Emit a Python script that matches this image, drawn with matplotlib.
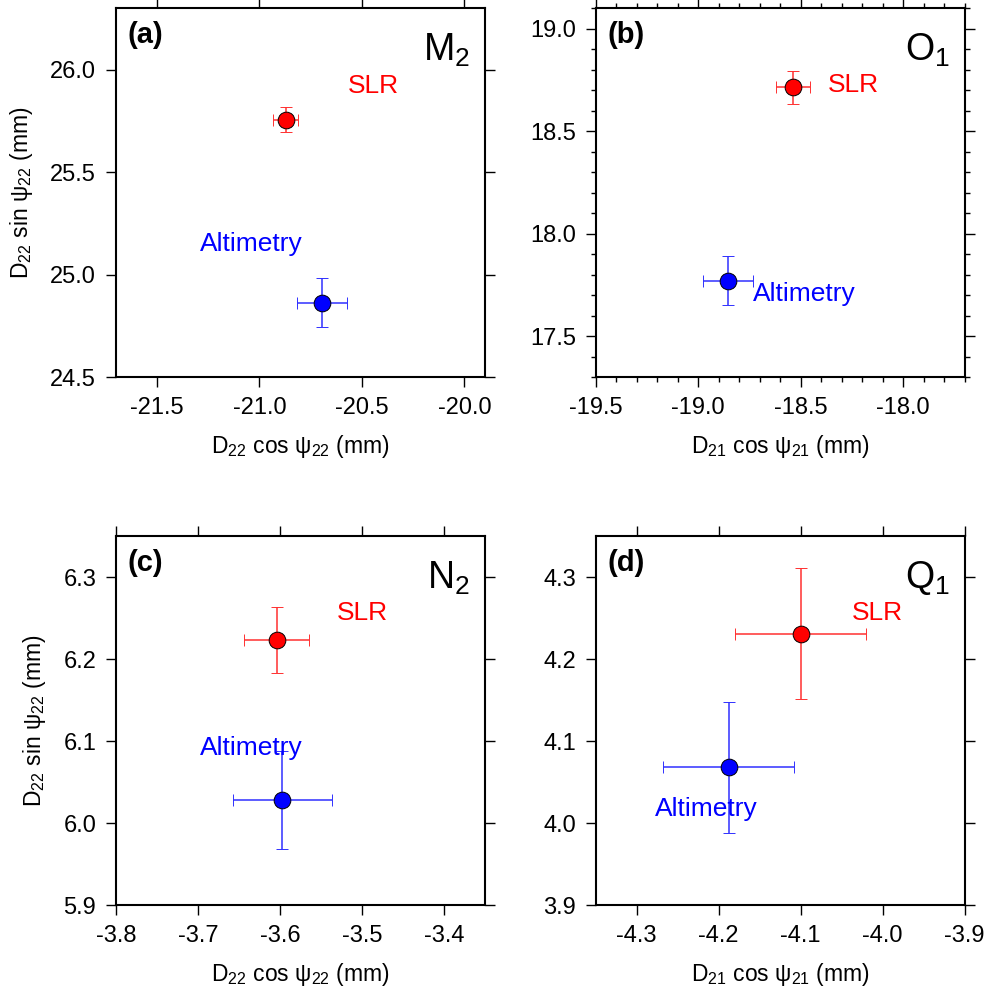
import matplotlib
matplotlib.use('Agg')
import matplotlib.pyplot as plt
from matplotlib.ticker import MultipleLocator, FormatStrFormatter

plt.rcParams['font.family'] = ['Liberation Sans', 'DejaVu Sans']
plt.rcParams['mathtext.fontset'] = 'custom'
plt.rcParams['mathtext.rm'] = 'Liberation Sans'
plt.rcParams['mathtext.it'] = 'Liberation Sans'
plt.rcParams['mathtext.default'] = 'regular'
plt.rcParams['axes.unicode_minus'] = False

# panel data (mm)
panel_tags = ['(a)', '(b)', '(c)', '(d)']
tide_names = ['M$_2$', 'O$_1$', 'N$_2$', 'Q$_1$']
x_titles = ['D$_{22}$ cos ψ$_{22}$ (mm)', 'D$_{21}$ cos ψ$_{21}$ (mm)',
            'D$_{22}$ cos ψ$_{22}$ (mm)', 'D$_{21}$ cos ψ$_{21}$ (mm)']
y_titles = ['D$_{22}$ sin ψ$_{22}$ (mm)', None, 'D$_{22}$ sin ψ$_{22}$ (mm)', None]

slr_x = [-20.872, -18.538, -3.604, -4.100]
slr_y = [25.755, 18.713, 6.223, 4.231]
slr_xerr = [0.062, 0.082, 0.040, 0.080]
slr_yerr = [0.060, 0.080, 0.040, 0.080]

alt_x = [-20.696, -18.855, -3.597, -4.188]
alt_y = [24.862, 17.769, 6.028, 4.068]
alt_xerr = [0.122, 0.121, 0.060, 0.080]
alt_yerr = [0.120, 0.119, 0.060, 0.080]

x_limits = [(-21.7, -19.9), (-19.5, -17.7), (-3.8, -3.35), (-4.35, -3.9)]
y_limits = [(24.5, 26.3), (17.3, 19.1), (5.9, 6.35), (3.9, 4.35)]
major_step = [0.5, 0.5, 0.1, 0.1]
has_minor = [False, True, False, False]

# where the SLR / Altimetry words sit (data coords, centre x, baseline y)
slr_text = [(-20.446, 25.886), (-18.245, 18.689), (-3.50, 6.248), (-4.006, 4.248)]
alt_text = [(-21.04, 25.114), (-18.482, 17.671), (-3.635, 6.083), (-4.215, 4.008)]

fig = plt.figure(figsize=(9.86, 9.94), dpi=100)
lefts = [0.1176, 0.6042, 0.1176, 0.6042]
bottoms = [0.6207, 0.6207, 0.0895, 0.0895]

for i in range(4):
    ax = fig.add_axes([lefts[i], bottoms[i], 0.3742, 0.3712])

    ax.errorbar(alt_x[i], alt_y[i], xerr=alt_xerr[i], yerr=alt_yerr[i],
                fmt='o', color='blue', ecolor='#3030ff', elinewidth=1.1,
                capsize=4, capthick=1.1, markersize=12,
                markerfacecolor='blue', markeredgecolor='black',
                markeredgewidth=0.7, zorder=3)
    ax.errorbar(slr_x[i], slr_y[i], xerr=slr_xerr[i], yerr=slr_yerr[i],
                fmt='o', color='red', ecolor='#ff3030', elinewidth=1.1,
                capsize=4, capthick=1.1, markersize=12,
                markerfacecolor='red', markeredgecolor='black',
                markeredgewidth=0.7, zorder=3)

    ax.text(slr_text[i][0], slr_text[i][1], 'SLR', color='red',
            fontsize=19, ha='center', va='baseline')
    ax.text(alt_text[i][0], alt_text[i][1], 'Altimetry', color='blue',
            fontsize=19, ha='center', va='baseline')

    ax.text(0.032, 0.904, panel_tags[i], transform=ax.transAxes,
            fontsize=21, fontweight='bold', ha='left', va='baseline')
    ax.text(0.96, 0.858, tide_names[i], transform=ax.transAxes,
            fontsize=27, ha='right', va='baseline')

    ax.set_xlim(*x_limits[i])
    ax.set_ylim(*y_limits[i])
    ax.xaxis.set_major_locator(MultipleLocator(major_step[i]))
    ax.yaxis.set_major_locator(MultipleLocator(major_step[i]))
    ax.xaxis.set_major_formatter(FormatStrFormatter('%.1f'))
    ax.yaxis.set_major_formatter(FormatStrFormatter('%.1f'))
    if has_minor[i]:
        ax.xaxis.set_minor_locator(MultipleLocator(0.1))
        ax.yaxis.set_minor_locator(MultipleLocator(0.1))

    ax.tick_params(which='both', direction='out', top=True, right=True,
                   width=1.0, labelsize=17, pad=7)
    ax.tick_params(which='major', length=7.2)
    ax.tick_params(which='minor', length=3.6)
    for s in ax.spines.values():
        s.set_linewidth(1.5)

    ax.set_xlabel(x_titles[i], fontsize=16.5, labelpad=10)
    if y_titles[i]:
        ax.set_ylabel(y_titles[i], fontsize=16.5, labelpad=11)

fig.savefig('out.png', dpi=100)
